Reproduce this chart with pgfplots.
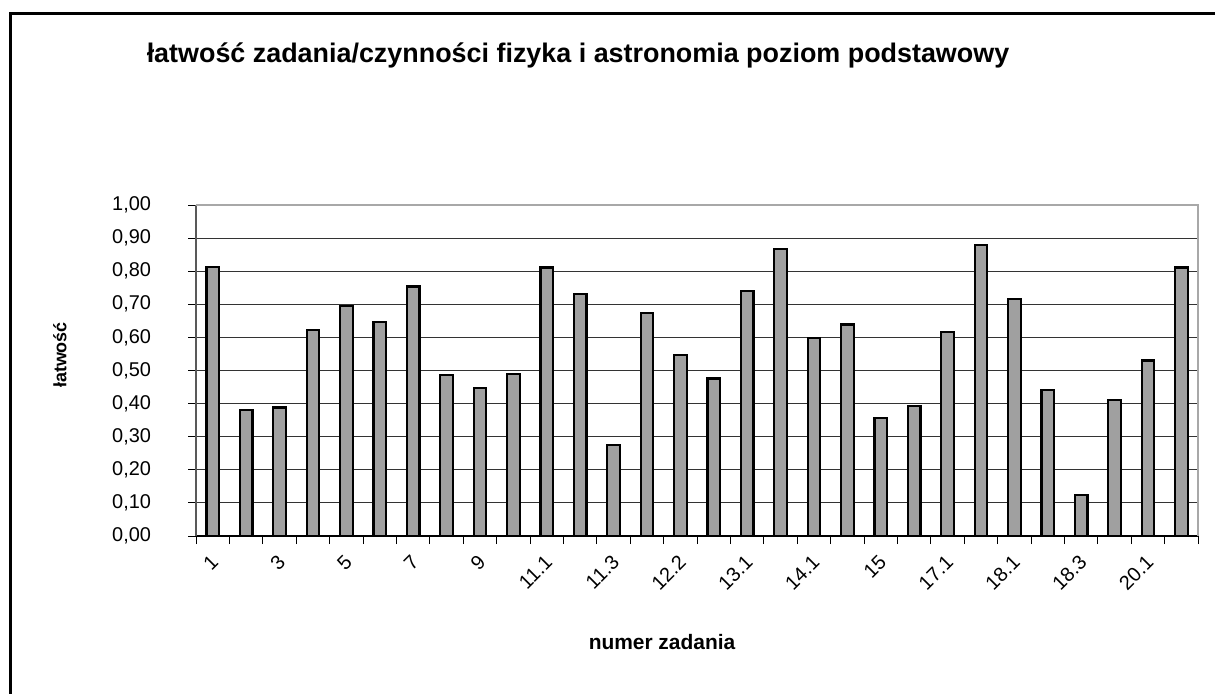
\documentclass[border=0pt]{standalone}
\usepackage{pgfplots}
\pgfplotsset{compat=1.18}
\usepackage{fontspec}
\setmainfont{Liberation Sans}
\definecolor{barfill}{HTML}{A0A0A0}
\definecolor{framegray}{HTML}{A8A8A8}
\begin{document}
\begin{tikzpicture}
% page is 1215x694 px, 1 px = 0.5bp, origin at top left
\useasboundingbox (0,0) rectangle (607.5bp,-347bp);
\draw[line width=1.5bp] (5bp,-400bp) -- (5bp,-6.5bp) -- (640bp,-6.5bp);

\node[font=\fontsize{13.5}{15}\selectfont\bfseries] at (289bp,-27.5bp)
    {łatwość zadania/czynności fizyka i astronomia poziom podstawowy};
\node[font=\fontsize{9}{11}\selectfont\bfseries, rotate=90] at (30bp,-177.5bp) {łatwość};
\node[font=\fontsize{10.5}{12}\selectfont\bfseries] at (331bp,-321bp) {numer zadania};

\begin{axis}[
    at={(98bp,-268bp)}, anchor=south west,
    scale only axis,
    width=501bp, height=165.5bp,
    xmin=0.5, xmax=30.5,
    ymin=0, ymax=1,
    ybar, bar width=6.3bp,
    axis x line*=bottom,
    axis y line*=left,
    x axis line style={black, line width=0.6bp, -},
    y axis line style={black!65, line width=0.9bp, -},
    tick align=outside,
    major tick length=4bp,
    tick style={black, line width=0.5bp},
    xtick={0.5,1.5,...,30.5},
    xticklabels={},
    extra x ticks={1,3,5,7,9,11,13,15,17,19,21,23,25,27,29},
    extra x tick labels={1,3,5,7,9,11.1,11.3,12.2,13.1,14.1,15,17.1,18.1,18.3,20.1},
    extra x tick style={major tick length=0pt, grid=none,
        tick label style={xshift=1.5bp, yshift=-11bp, rotate=45, anchor=east, inner sep=0.5bp}},
    ytick={0,0.1,...,1.0},
    ymajorgrids,
    grid style={black!80, line width=0.5bp},
    /pgf/number format/fixed,
    /pgf/number format/fixed zerofill,
    /pgf/number format/precision=2,
    /pgf/number format/use comma,
    /pgf/number format/assume math mode=true,
    yticklabel style={anchor=east, xshift=-15bp},
    tick label style={font=\fontsize{10}{12}\selectfont},
    clip=false,
]
\addplot[fill=barfill, draw=black, line width=1.1bp] coordinates {
    (1,0.813) (2,0.381) (3,0.388) (4,0.622) (5,0.694)
    (6,0.647) (7,0.754) (8,0.486) (9,0.446) (10,0.490)
    (11,0.811) (12,0.730) (13,0.276) (14,0.673) (15,0.548)
    (16,0.476) (17,0.741) (18,0.866) (19,0.597) (20,0.639)
    (21,0.356) (22,0.392) (23,0.616) (24,0.880) (25,0.717)
    (26,0.440) (27,0.125) (28,0.410) (29,0.530) (30,0.811)
};
\draw[framegray, line width=1bp] (rel axis cs:0,1) -- (rel axis cs:1,1) -- (rel axis cs:1,0);
\end{axis}
\end{tikzpicture}
\end{document}
